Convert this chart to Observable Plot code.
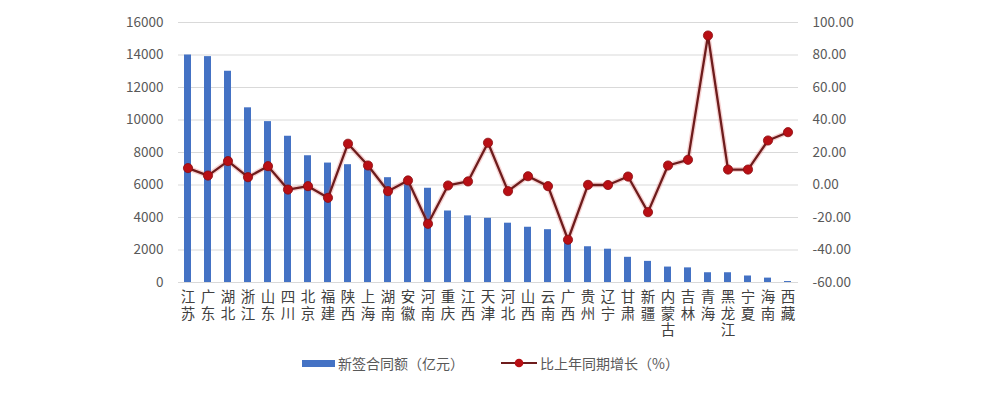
<!DOCTYPE html>
<html>
<head>
<meta charset="utf-8">
<script src="https://cdn.jsdelivr.net/npm/d3@7"></script>
<script src="https://cdn.jsdelivr.net/npm/@observablehq/plot@0.6"></script>
<style>
  html, body { margin: 0; padding: 0; background: #fff; }
  #chart { width: 988px; height: 396px; position: relative; font-family: "Noto Sans CJK SC", "Noto Sans", sans-serif; }
  .legend { position: absolute; top: 351px; left: 0; width: 988px; height: 24px; font-size: 14px; color: #595959; }
  .legend .item { position: absolute; top: 0; height: 24px; line-height: 24px; }
  .legend svg { position: absolute; top: 0; }
</style>
</head>
<body>
<div id="chart"></div>
<script>
const provinces = ["江苏","广东","湖北","浙江","山东","四川","北京","福建","陕西","上海","湖南","安徽","河南","重庆","江西","天津","河北","山西","云南","广西","贵州","辽宁","甘肃","新疆","内蒙古","吉林","青海","黑龙江","宁夏","海南","西藏"];
const contractValue = [14000,13900,13000,10750,9900,9000,7800,7350,7250,7050,6450,6150,5800,4400,4100,3950,3650,3400,3250,2400,2200,2050,1550,1300,950,900,600,600,400,270,60];
const growthPct = [10.4,5.8,14.7,4.8,11.6,-2.8,-0.7,-7.9,25.4,12.0,-3.8,2.8,-23.9,-0.3,2.2,26.0,-3.8,5.4,-0.7,-33.7,0.1,0.0,5.2,-16.7,12.0,15.5,92.0,9.5,9.5,27.4,32.5];
const leftTicks = [0,2000,4000,6000,8000,10000,12000,14000,16000];
const rightTicks = [-60,-40,-20,0,20,40,60,80,100];

// map right-axis (%) values into left-axis units: [-60,100] -> [0,16000]
const toLeft = v => (v + 60) * 100;
const fromLeft = d => d / 100 - 60;

const rows = provinces.map((p, i) => ({p, v: contractValue[i], g: growthPct[i], gy: toLeft(growthPct[i])}));

const plot = Plot.plot({
  width: 988,
  height: 340,
  marginLeft: 178,
  marginRight: 190,
  marginTop: 22,
  marginBottom: 58,
  style: {fontFamily: '"Noto Sans CJK SC", "Noto Sans", sans-serif', background: "#fff"},
  x: {domain: provinces, paddingInner: 0.64, paddingOuter: 0.32, align: 0.5},
  y: {domain: [0, 16000]},
  marks: [
    Plot.gridY(leftTicks, {stroke: "#d9d9d9", strokeOpacity: 1, strokeWidth: 1}),
    Plot.axisY(leftTicks, {anchor: "left", tickSize: 0, tickPadding: 15, fontSize: 13.5, fill: "#595959", label: null, tickFormat: d => String(d)}),
    Plot.axisY(rightTicks.map(toLeft), {anchor: "right", tickSize: 0, tickPadding: 14, fontSize: 13.5, fill: "#595959", label: null, tickFormat: d => fromLeft(d).toFixed(2), textAnchor: "start"}),
    Plot.axisX({anchor: "bottom", tickSize: 0, tickPadding: 8, fontSize: 14.5, fill: "#404040", label: null, lineHeight: 1.13, fontFamily: '"Liberation Sans", "Noto Sans CJK SC", sans-serif', tickFormat: d => d.split("").join("\n")}),
    Plot.barY(rows, {x: "p", y: "v", fill: "#4472C4"}),
    Plot.line(rows, {x: "p", y: "gy", stroke: "#e05050", strokeWidth: 5, strokeOpacity: 0.25, curve: "linear"}),
    Plot.line(rows, {x: "p", y: "gy", stroke: "#6e1c1c", strokeWidth: 2.3, curve: "linear"}),
    Plot.dot(rows, {x: "p", y: "gy", r: 4.6, fill: "#b80f14", stroke: "#8a0c10", strokeWidth: 0.8})
  ]
});

const chart = document.getElementById("chart");
chart.appendChild(plot);

const legend = document.createElement("div");
legend.className = "legend";
legend.innerHTML = `
  <svg style="left:302px" width="33" height="24"><rect x="0" y="9" width="33" height="7" fill="#4472C4"/></svg>
  <span class="item" style="left:338px">新签合同额（亿元）</span>
  <svg style="left:501px" width="36" height="24"><line x1="0" y1="12" x2="36" y2="12" stroke="#6e1c1c" stroke-width="2.2"/><circle cx="18" cy="12" r="4.3" fill="#b80f14"/></svg>
  <span class="item" style="left:540px">比上年同期增长（%）</span>`;
chart.appendChild(legend);
</script>
</body>
</html>
